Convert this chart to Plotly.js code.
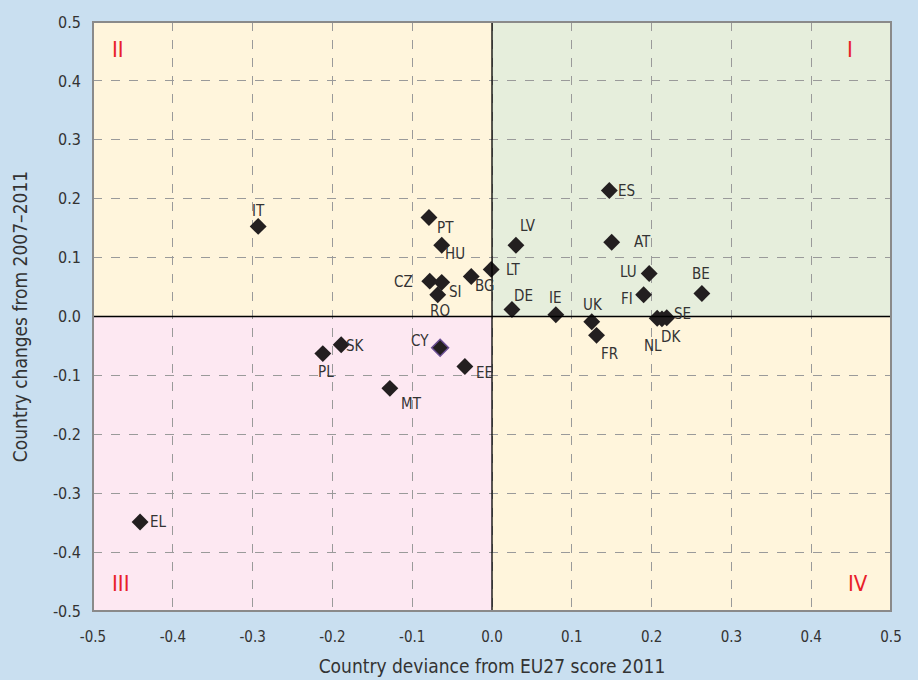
<!DOCTYPE html>
<html>
<head>
<meta charset="utf-8">
<script src="https://cdn.plot.ly/plotly-3.0.1.min.js"></script>
<style>
html,body{margin:0;padding:0;background:#c9dff0;}
#chart{width:918px;height:680px;}
</style>
</head>
<body>
<div id="chart"></div>
<script>
// Data
const countries = ["IT","PT","HU","LV","LT","BG","CZ","SI","RO","DE","IE","ES","AT","LU","FI","BE","UK","FR","NL","SE","DK","PL","SK","CY","EE","MT","EL"];
const deviance2011 = [-0.293,-0.079,-0.063,0.030,-0.001,-0.026,-0.078,-0.063,-0.068,0.025,0.080,0.147,0.150,0.197,0.190,0.263,0.125,0.131,0.207,0.219,0.213,-0.212,-0.189,-0.065,-0.034,-0.128,-0.441];
const change2007_2011 = [0.153,0.168,0.121,0.121,0.080,0.068,0.060,0.058,0.037,0.012,0.003,0.214,0.126,0.073,0.037,0.039,-0.009,-0.032,-0.003,-0.002,-0.004,-0.063,-0.048,-0.053,-0.085,-0.122,-0.349];
const quadrantLabels = ["I","II","III","IV"];
const tickVals = [-0.5,-0.4,-0.3,-0.2,-0.1,0,0.1,0.2,0.3,0.4,0.5];
const tickLabels = ["-0.5","-0.4","-0.3","-0.2","-0.1","0.0","0.1","0.2","0.3","0.4","0.5"];

// Label offsets (pixels) – layout only
const labelOffset = {
  IT:[0,-15], PT:[17,10], HU:[13,9], LV:[12,-19], LT:[22,1], BG:[13,10], CZ:[-26,1],
  SI:[14,10], RO:[2,16], DE:[12,-13], IE:[0,-17], ES:[17,1], AT:[31,0], LU:[-21,-2],
  FI:[-17,4], BE:[-1,-20], UK:[1,-17], FR:[13,19], NL:[-4,28], SE:[16,-4], DK:[9,18],
  PL:[3,18], SK:[14,1], CY:[-20,-7], EE:[20,6], MT:[22,16], EL:[18,0]
};
const quadPos = { I: [0.449, 0.454], II: [-0.469, 0.454], III: [-0.465, -0.454], IV: [0.459, -0.454] };

const FONT = '"DejaVu Sans Condensed","Liberation Sans Narrow",Roboto,"Open Sans",sans-serif';

const isCY = countries.map(c => c === "CY");
const trace = {
  type: 'scatter', mode: 'markers',
  x: deviance2011, y: change2007_2011,
  hoverinfo: 'skip',
  marker: {
    symbol: 'diamond', size: 13,
    color: '#231f20',
    line: { color: isCY.map(v => v ? '#6b4f94' : '#231f20'), width: isCY.map(v => v ? 1.5 : 0) }
  },
  showlegend: false
};

const annotations = countries.map((c, i) => ({
  x: deviance2011[i], y: change2007_2011[i], xref: 'x', yref: 'y',
  text: c, showarrow: false,
  xshift: labelOffset[c][0], yshift: -labelOffset[c][1],
  font: { family: FONT, size: 15, color: '#333' }
}));

quadrantLabels.forEach(q => {
  annotations.push({
    x: quadPos[q][0], y: quadPos[q][1], xref: 'x', yref: 'y', text: q, showarrow: false,
    font: { family: FONT, size: 22, color: '#e8202a' }
  });
});

const shapes = [
  { type: 'rect', xref: 'x', yref: 'y', x0: -0.5, x1: 0, y0: 0, y1: 0.5, fillcolor: '#fff5dc', line: { width: 0 }, layer: 'below' },
  { type: 'rect', xref: 'x', yref: 'y', x0: 0, x1: 0.5, y0: 0, y1: 0.5, fillcolor: '#e6eedc', line: { width: 0 }, layer: 'below' },
  { type: 'rect', xref: 'x', yref: 'y', x0: -0.5, x1: 0, y0: -0.5, y1: 0, fillcolor: '#fde8f2', line: { width: 0 }, layer: 'below' },
  { type: 'rect', xref: 'x', yref: 'y', x0: 0, x1: 0.5, y0: -0.5, y1: 0, fillcolor: '#fff5dc', line: { width: 0 }, layer: 'below' },
  { type: 'line', xref: 'x', yref: 'y', x0: 0, x1: 0, y0: -0.5, y1: 0.5, line: { color: '#000', width: 1.3 } },
  { type: 'line', xref: 'x', yref: 'y', x0: -0.5, x1: 0.5, y0: 0, y1: 0, line: { color: '#000', width: 1.3 } },
  { type: 'rect', xref: 'paper', yref: 'paper', x0: 0, x1: 1, y0: 0, y1: 1, line: { color: '#8a8a8a', width: 2 } }
];

const layout = {
  width: 918, height: 680,
  margin: { l: 93, r: 27, t: 22, b: 69 },
  paper_bgcolor: '#c9dff0', plot_bgcolor: '#fff5dc',
  font: { family: FONT, color: '#333' },
  xaxis: {
    range: [-0.5, 0.5], tickmode: 'array', tickvals: tickVals, ticktext: tickLabels,
    showgrid: true, gridcolor: '#9a9a9a', griddash: 'dash', gridwidth: 1,
    zeroline: false, showline: false, ticks: '', ticklabelstandoff: 15,
    tickfont: { family: FONT, size: 15, color: '#333' },
    title: { text: 'Country deviance from EU27 score 2011', font: { family: FONT, size: 19, color: '#333' }, standoff: 14 }
  },
  yaxis: {
    range: [-0.5, 0.5], tickmode: 'array', tickvals: tickVals, ticktext: tickLabels,
    showgrid: true, gridcolor: '#9a9a9a', griddash: 'dash', gridwidth: 1,
    zeroline: false, showline: false, ticks: '', ticklabelstandoff: 11,
    tickfont: { family: FONT, size: 16, color: '#333' },
    title: { text: 'Country changes from 2007–2011', font: { family: FONT, size: 19, color: '#333' }, standoff: 20 }
  },
  shapes: shapes,
  annotations: annotations
};

Plotly.newPlot('chart', [trace], layout, { displayModeBar: false, staticPlot: true });
</script>
</body>
</html>
